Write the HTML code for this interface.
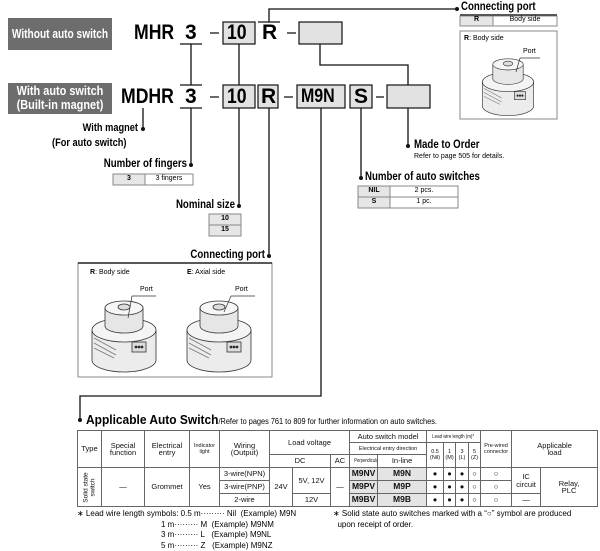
<!DOCTYPE html>
<html><head><meta charset="utf-8"><style>
body{margin:0;width:600px;height:550px;background:#fff;font-family:"Liberation Sans",sans-serif;position:relative;overflow:hidden}
.a{position:absolute;white-space:nowrap}
.c{transform:scaleX(.84);transform-origin:left center}
.r{transform:scaleX(.84);transform-origin:right center;text-align:right}
table{position:absolute;left:77px;top:430px;border-collapse:collapse;table-layout:fixed;font-size:7.5px;color:#111;width:520px}
td{border:1px solid #666;text-align:center;vertical-align:middle;padding:0;line-height:7.5px;overflow:hidden;white-space:nowrap}
.m{background:#e4e4e4;font-weight:bold;font-size:8.5px}
.s{font-size:5.5px;line-height:6px}
.q{display:inline-block;transform:scaleX(.8)}
</style></head><body>
<svg class="a" style="left:0;top:0" width="600" height="550" viewBox="0 0 600 550">
<g fill="#6d6d6d"><rect x="8" y="18" width="104" height="32"/><rect x="8" y="83" width="104" height="31"/></g>
<g fill="#e2e2e2" stroke="#111" stroke-width="1.2">
<rect x="223" y="22" width="32" height="22"/><rect x="299" y="22" width="43" height="22"/>
<rect x="223" y="85" width="32" height="23"/><rect x="258" y="85" width="20" height="23"/>
<rect x="297" y="85" width="48" height="23"/><rect x="350" y="85" width="22" height="23"/>
<rect x="387" y="85" width="43" height="23"/></g>
<g stroke="#111" stroke-width="1.3" fill="none">
<path d="M180 44H202M191 44V85M180 85H202M180 108H202M191 108V165"/>
<path d="M239 44V85M239 108V206"/>
<path d="M258 22H280M269 22V9H457"/>
<path d="M269 108V256"/>
<path d="M320 44V65H408V85"/>
<path d="M321 108V396H80V420"/>
<path d="M361 108V178M408 108V146M143 108V129"/>
<path d="M210 33H219M287 33H296M210 97H219M284 97H293M376 97H384"/>
</g>
<g fill="#111"><circle cx="457" cy="9" r="2"/><circle cx="191" cy="165" r="2"/><circle cx="239" cy="206" r="2"/><circle cx="269" cy="256" r="2"/><circle cx="80" cy="420" r="2"/><circle cx="361" cy="178" r="2"/><circle cx="408" cy="146" r="2"/><circle cx="143" cy="129" r="2"/></g>
<g fill="none" stroke="#888" stroke-width="1"><rect x="460" y="31" width="97" height="88"/><rect x="78" y="263" width="194" height="114"/></g>
<path d="M460 15H557M78 263H272" stroke="#222" stroke-width="1.5"/>
<g fill="#e6e6e6" stroke="#888"><rect x="460" y="16" width="33" height="10"/><rect x="113" y="174" width="32" height="11"/><rect x="358" y="186" width="32" height="11"/><rect x="358" y="197" width="32" height="11"/><rect x="209" y="214" width="32" height="11"/><rect x="209" y="225" width="32" height="11"/></g>
<g fill="none" stroke="#888"><rect x="493" y="16" width="64" height="10"/><rect x="145" y="174" width="48" height="11"/><rect x="390" y="186" width="68" height="11"/><rect x="390" y="197" width="68" height="11"/></g>
<defs><g id="cyl" stroke="#333" stroke-width="0.8">
<path d="M-32 0V30A32 12 0 0 0 32 30V0Z" fill="#ececec"/><ellipse cx="0" cy="0" rx="32" ry="12" fill="#f4f4f4"/>
<path d="M-19 -22V-4A19 7 0 0 0 19 -4V-22Z" fill="#e6e6e6"/><ellipse cx="0" cy="-22" rx="19" ry="7" fill="#f6f6f6"/>
<ellipse cx="0" cy="-23" rx="6" ry="3" fill="#ddd"/>
<path d="M-30 8L-8 20M-30 13L-8 25M-30 18L-10 28" stroke="#777"/>
<rect x="8" y="12" width="14" height="10" fill="#ddd"/><circle cx="12" cy="17" r="1" fill="#111"/><circle cx="15" cy="17" r="1" fill="#111"/><circle cx="18" cy="17" r="1" fill="#111"/>
</g></defs>
<use href="#cyl" x="124" y="330"/><use href="#cyl" x="219" y="330"/><use href="#cyl" x="508" y="82" transform="translate(508 82) scale(0.8) translate(-508 -82)"/>
<g stroke="#333" stroke-width="0.7"><path d="M132 296H156M132 296L128 318M231 296H255M231 296L224 312M520 58H540M520 58L516 72"/></g>
</svg>
<div class="a" style="left:-30px;top:18px;width:180px;height:32px;line-height:32px;text-align:center;color:#fff;font-weight:bold;font-size:13px;transform:scaleX(.78)">Without auto switch</div>
<div class="a" style="left:-30px;top:84px;width:180px;text-align:center;color:#fff;font-weight:bold;font-size:13px;line-height:14px;transform:scaleX(.84)">With auto switch<br>(Built-in magnet)</div>
<div class="a c" style="left:134px;top:21px;font-weight:bold;font-size:21px">MHR</div>
<div class="a" style="left:185px;top:21px;font-weight:bold;font-size:21px">3</div>
<div class="a c" style="left:227px;top:21px;font-weight:bold;font-size:21px">10</div>
<div class="a" style="left:262px;top:21px;font-weight:bold;font-size:21px">R</div>
<div class="a c" style="left:121px;top:85px;font-weight:bold;font-size:21px">MDHR</div>
<div class="a" style="left:185px;top:85px;font-weight:bold;font-size:21px">3</div>
<div class="a c" style="left:227px;top:85px;font-weight:bold;font-size:21px">10</div>
<div class="a" style="left:261px;top:85px;font-weight:bold;font-size:21px">R</div>
<div class="a c" style="left:301px;top:86px;font-weight:bold;font-size:19px">M9N</div>
<div class="a" style="left:354px;top:85px;font-weight:bold;font-size:21px">S</div>
<div class="a c" style="left:461px;top:1px;font-weight:bold;font-size:11.5px">Connecting port</div>
<div class="a" style="left:460px;top:16px;width:33px;text-align:center;font-weight:bold;font-size:7px">R</div>
<div class="a" style="left:493px;top:16px;width:64px;text-align:center;font-size:7px">Body side</div>
<div class="a" style="left:464px;top:35px;font-size:7px"><b>R</b>: Body side</div>
<div class="a" style="left:523px;top:48px;font-size:7px">Port</div>
<div class="a r" style="left:38px;top:122px;width:100px;font-weight:bold;font-size:11px">With magnet</div>
<div class="a c" style="left:52px;top:137px;font-weight:bold;font-size:11px">(For auto switch)</div>
<div class="a r" style="left:67px;top:158px;width:120px;font-weight:bold;font-size:11.5px">Number of fingers</div>
<div class="a" style="left:113px;top:175px;width:32px;text-align:center;font-weight:bold;font-size:7px">3</div>
<div class="a" style="left:145px;top:175px;width:48px;text-align:center;font-size:7px">3 fingers</div>
<div class="a c" style="left:414px;top:139px;font-weight:bold;font-size:11.5px">Made to Order</div>
<div class="a" style="left:414px;top:153px;font-size:7px">Refer to page 505 for details.</div>
<div class="a c" style="left:365px;top:171px;font-weight:bold;font-size:11.5px">Number of auto switches</div>
<div class="a" style="left:358px;top:187px;width:32px;text-align:center;font-weight:bold;font-size:7px">NIL</div>
<div class="a" style="left:390px;top:187px;width:68px;text-align:center;font-size:7px">2 pcs.</div>
<div class="a" style="left:358px;top:198px;width:32px;text-align:center;font-weight:bold;font-size:7px">S</div>
<div class="a" style="left:390px;top:198px;width:68px;text-align:center;font-size:7px">1 pc.</div>
<div class="a r" style="left:115px;top:199px;width:120px;font-weight:bold;font-size:11.5px">Nominal size</div>
<div class="a" style="left:209px;top:215px;width:32px;text-align:center;font-weight:bold;font-size:7px">10</div>
<div class="a" style="left:209px;top:226px;width:32px;text-align:center;font-weight:bold;font-size:7px">15</div>
<div class="a r" style="left:145px;top:249px;width:120px;font-weight:bold;font-size:11.5px">Connecting port</div>
<div class="a" style="left:90px;top:269px;font-size:7px"><b>R</b>: Body side</div>
<div class="a" style="left:187px;top:269px;font-size:7px"><b>E</b>: Axial side</div>
<div class="a" style="left:140px;top:286px;font-size:7px">Port</div>
<div class="a" style="left:235px;top:286px;font-size:7px">Port</div>
<div class="a" style="left:86px;top:412px;font-size:8px;transform:scaleX(.92);transform-origin:left"><b style="font-size:13px">Applicable Auto Switch</b>/Refer to pages 761 to 809 for further information on auto switches.</div>
<table>
<colgroup><col style="width:24px"><col style="width:43px"><col style="width:45px"><col style="width:30px"><col style="width:50px"><col style="width:23px"><col style="width:38px"><col style="width:19px"><col style="width:28px"><col style="width:49px"><col style="width:17px"><col style="width:12px"><col style="width:13px"><col style="width:12px"><col style="width:31px"><col style="width:29px"><col style="width:57px"></colgroup>
<tr style="height:12px"><td rowspan="3">Type</td><td rowspan="3">Special<br>function</td><td rowspan="3">Electrical<br>entry</td><td rowspan="3" class="s">Indicator<br>light</td><td rowspan="3">Wiring<br>(Output)</td><td colspan="3" rowspan="2">Load voltage</td><td colspan="2">Auto switch model</td><td colspan="4" class="s"><span class="q">Lead wire length (m)*</span></td><td rowspan="3" class="s">Pre-wired<br>connector</td><td colspan="2" rowspan="3">Applicable<br>load</td></tr>
<tr style="height:12px"><td colspan="2" class="s">Electrical entry direction</td><td rowspan="2" class="s">0.5<br>(Nil)</td><td rowspan="2" class="s">1<br>(M)</td><td rowspan="2" class="s">3<br>(L)</td><td rowspan="2" class="s">5<br>(Z)</td></tr>
<tr style="height:13px"><td colspan="2">DC</td><td>AC</td><td class="s"><span class="q" style="transform:scaleX(.75)">Perpendicular</span></td><td>In-line</td></tr>
<tr style="height:13px"><td rowspan="3" style="font-size:6.5px"><div style="height:36px;position:relative"><div style="position:absolute;left:-7px;top:12px;width:38px;transform:rotate(-90deg);line-height:6.5px;white-space:normal">Solid state switch</div></div></td><td rowspan="3">—</td><td rowspan="3">Grommet</td><td rowspan="3">Yes</td><td>3-wire(NPN)</td><td rowspan="3">24V</td><td rowspan="2">5V, 12V</td><td rowspan="3">—</td><td class="m">M9NV</td><td class="m">M9N</td><td>●</td><td>●</td><td>●</td><td>○</td><td>○</td><td rowspan="2">IC<br>circuit</td><td rowspan="3">Relay,<br>PLC</td></tr>
<tr style="height:13px"><td>3-wire(PNP)</td><td class="m">M9PV</td><td class="m">M9P</td><td>●</td><td>●</td><td>●</td><td>○</td><td>○</td></tr>
<tr style="height:13px"><td>2-wire</td><td>12V</td><td class="m">M9BV</td><td class="m">M9B</td><td>●</td><td>●</td><td>●</td><td>○</td><td>○</td><td>—</td></tr>
</table>
<div class="a" style="left:77px;top:509px;font-size:8px;line-height:10.5px">∗ Lead wire length symbols: 0.5 m········· Nil &nbsp;(Example) M9N<br><span style="padding-left:84px">1 m········· M &nbsp;(Example) M9NM</span><br><span style="padding-left:84px">3 m········· L &nbsp;&nbsp;(Example) M9NL</span><br><span style="padding-left:84px">5 m········· Z &nbsp;&nbsp;(Example) M9NZ</span></div>
<div class="a" style="left:333px;top:509px;font-size:8px;line-height:10.5px">∗ Solid state auto switches marked with a “○” symbol are produced<br>&nbsp;&nbsp;upon receipt of order.</div>
</body></html>
